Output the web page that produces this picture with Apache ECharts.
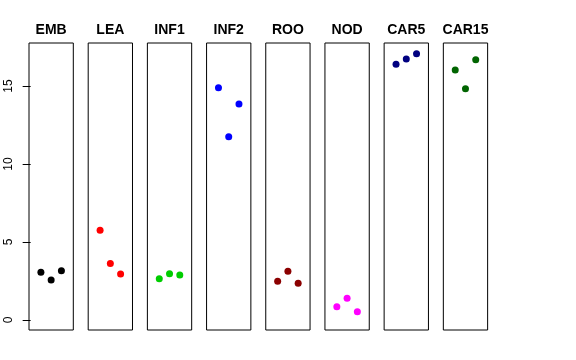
<!DOCTYPE html>
<html><head><meta charset="utf-8">
<script src="https://cdn.jsdelivr.net/npm/echarts@6/dist/echarts.min.js"></script>
<style>html,body{margin:0;padding:0;background:#fff}#c{width:576px;height:360px}</style>
</head><body><div id="c"></div>
<script>
const panels = ['EMB','LEA','INF1','INF2','ROO','NOD','CAR5','CAR15'];
const colors = ['#000000','#FF0000','#00CD00','#0000FF','#8B0000','#FF00FF','#000080','#006400'];
const values = {
  EMB:   [3.06, 2.56, 3.16],
  LEA:   [5.75, 3.63, 2.95],
  INF1:  [2.65, 2.97, 2.88],
  INF2:  [14.89, 11.75, 13.85],
  ROO:   [2.48, 3.12, 2.35],
  NOD:   [0.85, 1.39, 0.53],
  CAR5:  [16.39, 16.73, 17.07],
  CAR15: [16.03, 14.83, 16.69]
};
const replicates = [1, 2, 3];
const yTicks = [0, 5, 10, 15];

const chart = echarts.init(document.getElementById('c'), null, {renderer:'canvas'});
const L0 = 29, W = 44.3, P = 59.19, TOP = 43, H = 287;
const grid = [], xAxis = [], yAxis = [], series = [], graphic = [];
panels.forEach((p, i) => {
  const left = L0 + i * P;
  grid.push({left: left, top: TOP, width: W, height: H, show: true, borderColor: '#000', borderWidth: 1, backgroundColor: 'transparent', containLabel: false});
  xAxis.push({gridIndex: i, type: 'value', min: -0.16, max: 4.16, show: false});
  yAxis.push({gridIndex: i, type: 'value', min: -0.64, max: 17.76, show: i === 0,
    splitLine: {show: false},
    axisLine: {show: false},
    axisTick: {show: i === 0, length: 8, lineStyle: {color: '#000', width: 1}, customValues: yTicks},
    axisLabel: {show: i === 0, rotate: 90, margin: 14, color: '#000', fontSize: 12, fontFamily: 'Liberation Sans', customValues: yTicks, formatter: v => String(v)}
  });
  series.push({type: 'scatter', xAxisIndex: i, yAxisIndex: i, symbol: 'circle', symbolSize: 7,
    itemStyle: {color: colors[i], opacity: 1}, silent: true, animation: false,
    data: replicates.map((r, k) => [r, values[p][k]])});
  graphic.push({type: 'text', x: left + W / 2, y: 30,
    style: {text: p, align: 'center', verticalAlign: 'middle', textAlign: 'center', textVerticalAlign: 'middle', font: 'bold 14px "Liberation Sans"', fill: '#000'}});
});
chart.setOption({animation: false, grid, xAxis, yAxis, series, graphic});
</script></body></html>
